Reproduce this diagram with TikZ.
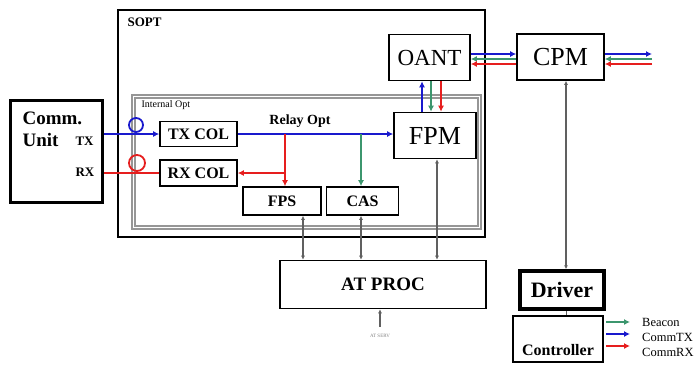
\documentclass[tikz,border=0pt]{standalone}
\usepackage{fontspec}
\setmainfont{Liberation Serif}
\usetikzlibrary{arrows.meta,positioning}
\definecolor{txblue}{RGB}{25,25,205}
\definecolor{rxred}{RGB}{230,30,30}
\definecolor{bcngreen}{RGB}{60,150,110}
\definecolor{frame}{RGB}{150,150,150}
\newcommand{\fs}[1]{\fontsize{#1}{#1}\selectfont}

\begin{document}
\begin{tikzpicture}[x=1pt, y=-1pt,
  box/.style={draw, line width=1.6pt, fill=white, inner sep=0pt, font=\bfseries\fs{16}},
  bigbox/.style={draw, line width=1.6pt, fill=white, inner sep=0pt, font=\fs{26}},
  beam/.style={line width=2.2pt, -{Latex[length=6pt,width=6pt]}},
  ctrl/.style={draw=gray!75!black, line width=1.4pt, {Latex[length=4pt,width=4pt]}-{Latex[length=4pt,width=4pt]}},
  legtext/.style={anchor=west, inner sep=0pt, font=\fs{12.5}}]
\useasboundingbox (0,0) rectangle (695,365);
% Outer SOPT frame and internal optics frame
\draw[line width=1.5pt] (118,10) rectangle (485,237);
\node[anchor=west, font=\bfseries\fs{13}] (sopt) at (124,22) {SOPT};
\draw[draw=frame, line width=1.1pt] (132,95) rectangle (481,229);
\draw[draw=frame, line width=1.1pt] (135,98) rectangle (478,226);
\node[anchor=west, font=\fs{10}] (intopt) at (138,105) {Internal Opt};
% Communication unit
\node[draw, line width=3pt, minimum width=92pt, minimum height=102pt] (commu) at (56,151) {};
\node[anchor=west, font=\bfseries\fs{19}] (comm) at (19,118) {Comm.};
\node[anchor=west, font=\bfseries\fs{19}] (unit) at (19,140) {Unit};
\node[anchor=west, font=\bfseries\fs{13}] (tx) at (72,141) {TX};
\node[anchor=west, font=\bfseries\fs{13}] (rx) at (72,172) {RX};
% Optical blocks
\node[box, minimum width=77pt, minimum height=25pt] (txcol) at (198.5,134) {TX COL};
\node[box, minimum width=77pt, minimum height=26pt] (rxcol) at (198.5,173) {RX COL};
\node[box, minimum width=78pt, minimum height=28pt] (fps) at (282,201) {FPS};
\node[box, minimum width=72pt, minimum height=28pt] (cas) at (362.5,201) {CAS};
\node[bigbox, minimum width=81pt, minimum height=46pt, font=\fs{23}] (oant) at (429.5,57.5) {OANT};
\node[bigbox, minimum width=87pt, minimum height=46pt] (cpm) at (560.5,57) {CPM};
\node[bigbox, minimum width=82pt, minimum height=46pt] (fpm) at (435,135.5) {FPM};
% Electronics
\node[box, minimum width=206pt, minimum height=48pt, font=\bfseries\fs{19}] (atproc) at (383,284.5) {AT PROC};
\node[box, line width=3.5pt, minimum width=84pt, minimum height=38pt, font=\bfseries\fs{22}] (driver) at (562,290) {Driver};
\node[box, minimum width=90pt, minimum height=46pt] (controller) at (558,339) {};
\node[font=\bfseries\fs{16}, above=4pt of controller.south] (ctrltext) {Controller};
% TX and RX fibres with coils
\draw[beam, txblue] (commu.east |- txcol.west) -- (txcol.west);
\draw[txblue, line width=1.8pt] (136,125) circle (7);
\draw[rxred, line width=2.2pt] (rxcol.west) -- (rxcol.west -| commu.east);
\draw[rxred, line width=1.8pt] (137,163) circle (8);
% Relay optics
\draw[beam, txblue] (txcol.east) -- (txcol.east -| fpm.west);
\node[font=\bfseries\fs{14}] (relay) at (300,121) {Relay Opt};
\coordinate (rtap) at (285,134);
\coordinate (gtap) at (361,134);
\draw[beam, rxred] (rtap) -- (rtap |- fps.north);
\draw[beam, rxred] (rtap |- rxcol.east) -- (rxcol.east);
\draw[beam, bcngreen] (gtap) -- (gtap |- cas.north);
% FPM to OANT
\draw[beam, txblue] ([xshift=-13pt]fpm.north) -- ([xshift=-13pt]fpm.north |- oant.south);
\draw[beam, bcngreen] ([xshift=-4pt]fpm.north |- oant.south) -- ([xshift=-4pt]fpm.north);
\draw[beam, rxred] ([xshift=6pt]fpm.north |- oant.south) -- ([xshift=6pt]fpm.north);
% OANT to CPM and out
\draw[beam, txblue] ([yshift=3.5pt]oant.east) -- ([yshift=3.5pt]oant.east -| cpm.west);
\draw[beam, bcngreen] ([yshift=-1.5pt]oant.east -| cpm.west) -- ([yshift=-1.5pt]oant.east);
\draw[beam, rxred] ([yshift=-6.5pt]oant.east -| cpm.west) -- ([yshift=-6.5pt]oant.east);
\coordinate (outtx) at (652,54);
\coordinate (inbcn) at (652,59);
\coordinate (inrx) at (652,64);
\draw[beam, txblue] (outtx -| cpm.east) -- (outtx);
\draw[beam, bcngreen] (inbcn) -- (inbcn -| cpm.east);
\draw[beam, rxred] (inrx) -- (inrx -| cpm.east);
% Control lines
\draw[ctrl] ([xshift=21pt]fps.south) -- ([xshift=21pt]fps.south |- atproc.north);
\draw[ctrl] ([xshift=-1.5pt]cas.south) -- ([xshift=-1.5pt]cas.south |- atproc.north);
\draw[ctrl] ([xshift=2pt]fpm.south) -- ([xshift=2pt]fpm.south |- atproc.north);
\draw[ctrl] ([xshift=5.5pt]cpm.south) -- ([xshift=5.5pt]cpm.south |- driver.north);
\draw[draw=gray!75!black, line width=1.4pt] ([xshift=4.5pt]driver.south) -- ([xshift=4.5pt]driver.south |- controller.north);
\node[font=\fs{5}, text=gray] (atserv) at (380,336) {AT SERV};
\draw[draw=gray!75!black, line width=1.4pt, -{Latex[length=4pt,width=4pt]}] ([yshift=4pt]atserv.north) -- (atserv.north |- atproc.south);
% Legend
\node[legtext] (lbcn) at (642,322) {Beacon};
\node[legtext] (ltx) at (642,337) {CommTX};
\node[legtext] (lrx) at (642,352) {CommRX};
\draw[beam, bcngreen] ([xshift=-36pt]lbcn.west) -- ([xshift=-12pt]lbcn.west);
\draw[beam, txblue] ([xshift=-36pt,yshift=3pt]ltx.west) -- ([xshift=-12pt,yshift=3pt]ltx.west);
\draw[beam, rxred] ([xshift=-36pt,yshift=6pt]lrx.west) -- ([xshift=-12pt,yshift=6pt]lrx.west);
\end{tikzpicture}
\end{document}
